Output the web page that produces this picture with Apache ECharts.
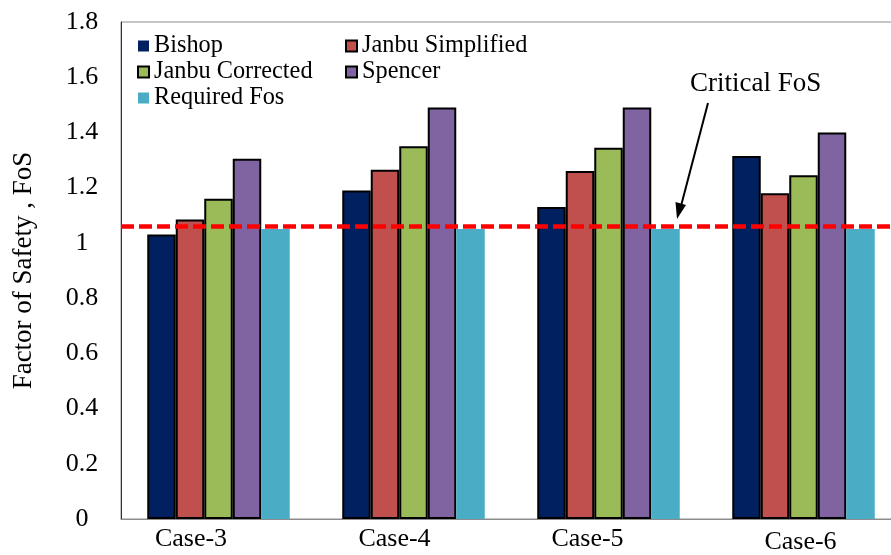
<!DOCTYPE html>
<html>
<head>
<meta charset="utf-8">
<script src="https://cdn.jsdelivr.net/npm/echarts@6/dist/echarts.min.js"></script>
<style>html,body{margin:0;padding:0;background:#fff;overflow:hidden;width:891px;height:555px}#c{width:901px;height:555px}</style>
</head>
<body>
<div id="c"></div>
<script>
const categories = ['Case-3', 'Case-4', 'Case-5', 'Case-6'];
const bishop = [1.03, 1.19, 1.13, 1.315];
const janbuSimplified = [1.085, 1.265, 1.26, 1.18];
const janbuCorrected = [1.16, 1.35, 1.345, 1.245];
const spencer = [1.305, 1.49, 1.49, 1.40];
const requiredFos = [1.05, 1.05, 1.05, 1.05];
const criticalFoS = 1.06;
const seriesNames = ['Bishop', 'Janbu Simplified', 'Janbu Corrected', 'Spencer', 'Required Fos'];
const colors = ['#002060', '#C0504D', '#9BBB59', '#8064A2', '#4BACC6'];

const FONT = 'Liberation Serif';
const chart = echarts.init(document.getElementById('c'), null, {renderer: 'canvas'});

const labelShift = {
  c0: {padding: [0, 55, 0, 0], fontFamily: FONT, fontSize: 26, color: '#000'},
  c1: {padding: [0, 38, 0, 0], fontFamily: FONT, fontSize: 26, color: '#000'},
  c2: {padding: [0, 42, 0, 0], fontFamily: FONT, fontSize: 26, color: '#000'},
  c3: {padding: [3, 6, 0, 0], fontFamily: FONT, fontSize: 26, color: '#000'}
};

function barSeries(name, data, color, bordered) {
  return {
    name: name,
    type: 'bar',
    data: data,
    barWidth: 28.5,
    barGap: '0%',
    itemStyle: {
      color: color,
      borderColor: '#000',
      borderWidth: bordered ? 2 : 0
    }
  };
}

const series = [
  barSeries(seriesNames[0], bishop, colors[0], true),
  barSeries(seriesNames[1], janbuSimplified, colors[1], true),
  barSeries(seriesNames[2], janbuCorrected, colors[2], true),
  barSeries(seriesNames[3], spencer, colors[3], true),
  barSeries(seriesNames[4], requiredFos, colors[4], false)
];
series[4].markLine = {
  silent: true,
  symbol: 'none',
  label: {show: false},
  lineStyle: {color: '#FF0000', width: 4.5, type: [13, 5]},
  data: [{yAxis: criticalFoS}]
};

function legendItem(i, bordered) {
  return {
    name: seriesNames[i],
    itemStyle: {color: colors[i], borderColor: '#000', borderWidth: bordered ? 2 : 0}
  };
}

const legendText = {
  fontFamily: FONT, fontSize: 24.3, color: '#000', lineHeight: 26,
  rich: {n: {fontFamily: FONT, fontSize: 24.3, color: '#000', lineHeight: 26}}
};
const legendCommon = {
  orient: 'vertical',
  top: 28,
  itemWidth: 11,
  itemHeight: 11,
  itemGap: 0,
  icon: 'rect',
  formatter: function (n) { return '{n|' + n + '}'; },
  textStyle: legendText
};

const option = {
  animation: false,
  backgroundColor: '#fff',
  textStyle: {fontFamily: FONT},
  grid: {
    left: 121, top: 22, right: 0, height: 499,
    show: true, borderColor: '#8c8c8c', borderWidth: 1, backgroundColor: 'transparent'
  },
  legend: [
    Object.assign({}, legendCommon, {left: 132, data: [legendItem(0, false), legendItem(2, true), legendItem(4, false)]}),
    Object.assign({}, legendCommon, {left: 340, data: [legendItem(1, true), legendItem(3, true)]})
  ],
  xAxis: {
    type: 'category',
    data: categories,
    axisLine: {show: true, lineStyle: {color: '#8c8c8c', width: 1}},
    axisTick: {show: false},
    axisLabel: {
      margin: 7,
      fontFamily: FONT,
      fontSize: 26,
      color: '#000',
      formatter: function (v, i) { return '{c' + i + '|' + v + '}'; },
      rich: labelShift
    }
  },
  yAxis: {
    type: 'value',
    min: 0,
    max: 1.8,
    interval: 0.2,
    name: 'Factor of Safety , FoS',
    nameLocation: 'middle',
    nameGap: 84,
    nameTextStyle: {fontFamily: FONT, fontSize: 27, color: '#000'},
    axisLine: {show: true, lineStyle: {color: '#333', width: 1}},
    axisTick: {show: false},
    splitLine: {show: false},
    axisLabel: {
      margin: 39,
      align: 'center',
      fontFamily: FONT,
      fontSize: 26,
      color: '#000',
      formatter: function (v) { return '{t|' + v + '}'; },
      rich: {t: {fontFamily: FONT, fontSize: 26, color: '#000'}}
    }
  },
  graphic: [
    {
      type: 'text', left: 690, top: 70,
      style: {text: 'Critical FoS', fontFamily: FONT, fontSize: 27, fill: '#000'}
    },
    {
      type: 'line',
      shape: {x1: 708, y1: 103, x2: 681, y2: 206},
      style: {stroke: '#000', lineWidth: 2}
    },
    {
      type: 'polygon',
      shape: {points: [[677, 219], [686, 205], [675.5, 202]]},
      style: {fill: '#000'}
    }
  ],
  series: series
};
chart.setOption(option);
</script>
</body>
</html>
